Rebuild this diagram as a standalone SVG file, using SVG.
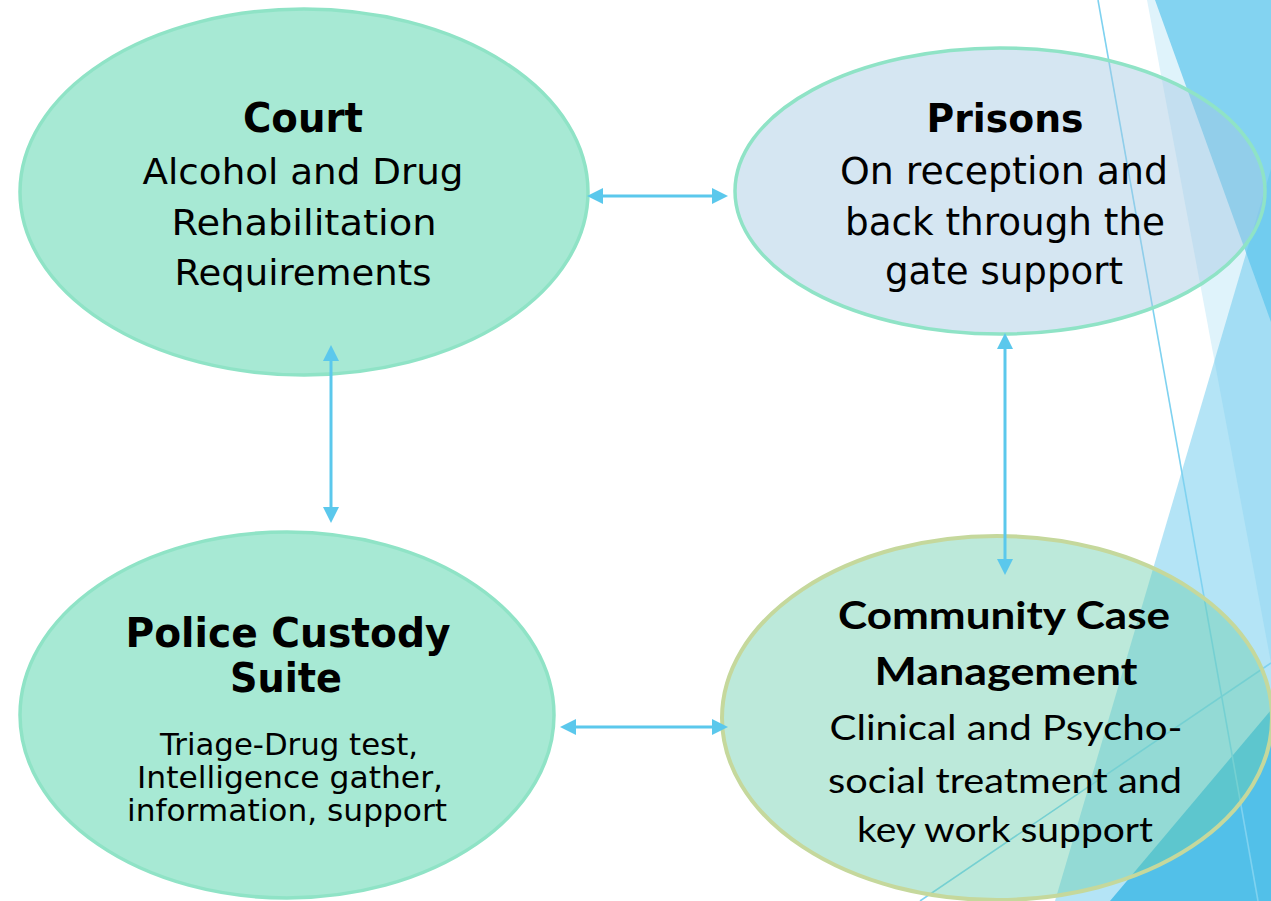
<svg xmlns="http://www.w3.org/2000/svg" width="1271" height="901" viewBox="0 0 1271 901">
  <style>
    .bg-line { stroke: #7fd2f0; stroke-width: 1.6; fill: none; }
    .mint { fill: #a7e9d4; stroke: #8fe3c6; stroke-width: 3.5; }
    .prison { fill: #a4c8e3; fill-opacity: 0.46; stroke: #8fe3c6; stroke-width: 3.5; }
    .comm { fill: #6bcead; fill-opacity: 0.45; stroke: #c5d89c; stroke-width: 4; }
    .conn { stroke: #5bc8ec; stroke-width: 3; fill: none; marker-start: url(#arrow); marker-end: url(#arrow); }
    .t { font-family: "DejaVu Sans", Verdana, sans-serif; fill: #000; text-anchor: middle; }
    .b { font-weight: bold; }
    .c { font-family: Lato, "Open Sans", sans-serif; fill: #000; text-anchor: middle; }
  </style>
  <defs>
    <marker id="arrow" viewBox="0 0 16 16" markerWidth="16" markerHeight="16" refX="1" refY="8" markerUnits="userSpaceOnUse" orient="auto-start-reverse">
      <path d="M0,0 L16,8 L0,16 z" fill="#5bc8ec"/>
    </marker>
  </defs>
  <rect width="1271" height="901" fill="#ffffff"/>
  <g id="background">
    <polygon points="1147,0 1271,0 1271,663" fill="#dff3fb"/>
    <polygon points="1271,169 1055,901 1271,901" fill="#5bc5ec" fill-opacity="0.46"/>
    <polygon points="1155,0 1271,0 1271,322" fill="#5bc5ec" fill-opacity="0.7"/>
    <polygon points="1110,901 1271,710 1271,901" fill="#52c0e9"/>
    <line class="bg-line" x1="1098" y1="0" x2="1258" y2="901"/>
    <line class="bg-line" x1="920" y1="901" x2="1271" y2="663"/>
  </g>
  <g id="court">
    <ellipse class="mint" cx="304" cy="192" rx="284" ry="183"/>
    <text class="t b" x="303" y="132" font-size="40" textLength="120" lengthAdjust="spacingAndGlyphs">Court</text>
    <text class="t" x="303" y="184" font-size="35" textLength="321" lengthAdjust="spacingAndGlyphs">Alcohol and Drug</text>
    <text class="t" x="304" y="235" font-size="35" textLength="265" lengthAdjust="spacingAndGlyphs">Rehabilitation</text>
    <text class="t" x="303" y="285" font-size="35" textLength="257" lengthAdjust="spacingAndGlyphs">Requirements</text>
  </g>
  <g id="prisons">
    <ellipse class="prison" cx="1000" cy="191" rx="265" ry="143"/>
    <text class="t b" x="1005" y="132" font-size="39" textLength="157" lengthAdjust="spacingAndGlyphs">Prisons</text>
    <text class="t" x="1004" y="184" font-size="37" textLength="328" lengthAdjust="spacingAndGlyphs">On reception and</text>
    <text class="t" x="1005" y="235" font-size="37" textLength="320" lengthAdjust="spacingAndGlyphs">back through the</text>
    <text class="t" x="1004" y="284" font-size="37" textLength="238" lengthAdjust="spacingAndGlyphs">gate support</text>
  </g>
  <g id="police">
    <ellipse class="mint" cx="287" cy="715" rx="267" ry="183"/>
    <text class="t b" x="288" y="647" font-size="41" textLength="325" lengthAdjust="spacingAndGlyphs">Police Custody</text>
    <text class="t b" x="286" y="692" font-size="41" textLength="112" lengthAdjust="spacingAndGlyphs">Suite</text>
    <text class="t" x="289" y="755" font-size="31" textLength="258" lengthAdjust="spacingAndGlyphs">Triage-Drug test,</text>
    <text class="t" x="290" y="788" font-size="31" textLength="306" lengthAdjust="spacingAndGlyphs">Intelligence gather,</text>
    <text class="t" x="287" y="821" font-size="31" textLength="320" lengthAdjust="spacingAndGlyphs">information, support</text>
  </g>
  <g id="community">
    <ellipse class="comm" cx="997" cy="718" rx="275" ry="182"/>
    <text class="c b" x="1004" y="629" font-size="38" textLength="332" lengthAdjust="spacingAndGlyphs">Community Case</text>
    <text class="c b" x="1006" y="685" font-size="38" textLength="263" lengthAdjust="spacingAndGlyphs">Management</text>
    <text class="c" x="1006" y="740" font-size="35" textLength="353" lengthAdjust="spacingAndGlyphs">Clinical and Psycho-</text>
    <text class="c" x="1005" y="793" font-size="35" textLength="354" lengthAdjust="spacingAndGlyphs">social treatment and</text>
    <text class="c" x="1005" y="842" font-size="35" textLength="296" lengthAdjust="spacingAndGlyphs">key work support</text>
  </g>
  <g id="connectors">
    <line class="conn" x1="602" y1="196" x2="713" y2="196"/>
    <line class="conn" x1="331" y1="360" x2="331" y2="508"/>
    <line class="conn" x1="1005" y1="348" x2="1005" y2="560"/>
    <line class="conn" x1="575" y1="727" x2="713" y2="727"/>
  </g>
</svg>
